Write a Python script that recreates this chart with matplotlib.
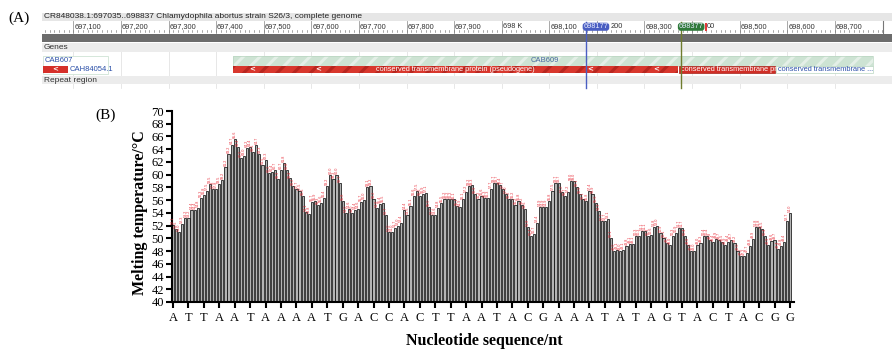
import matplotlib
matplotlib.use('Agg')
import matplotlib.pyplot as plt
from matplotlib.patches import Rectangle, FancyBboxPatch
import numpy as np

plt.rcParams['hatch.linewidth'] = 2.2

# ---------------- data ----------------
tick_bases = list("ATTAATAAAATGACCACTTAATACGAAATATAGTACTACGG")

melting_temp = [
    52.1, 51.5, 51.0, 52.3, 53.2, 53.2, 54.4, 54.4, 54.8, 56.3,
    56.8, 57.5, 58.5, 57.8, 57.8, 58.5, 59.2, 61.2, 63.2, 64.7,
    65.6, 64.4, 62.6, 63.0, 64.2, 64.4, 63.5, 64.7, 63.3, 61.5,
    62.3, 60.2, 60.4, 60.7, 59.3, 60.7, 61.8, 60.8, 59.4, 58.2,
    57.7, 57.5, 56.6, 54.1, 53.8, 55.7, 55.9, 55.3, 55.6, 56.4,
    58.2, 60.0, 59.3, 60.0, 58.7, 55.8, 54.0, 54.6, 54.0, 54.4,
    54.6, 55.7, 56.0, 58.1, 58.2, 56.2, 54.8, 55.4, 55.5, 53.7,
    51.0, 51.0, 51.7, 52.0, 52.4, 54.4, 53.6, 55.1, 56.6, 57.5,
    56.6, 56.9, 57.1, 55.0, 53.7, 53.6, 54.8, 55.5, 56.2, 56.2,
    56.2, 56.1, 55.1, 54.9, 56.1, 57.2, 58.2, 58.3, 56.9, 56.2,
    56.6, 56.3, 56.3, 57.7, 58.7, 58.7, 58.4, 57.7, 57.0, 56.2,
    56.2, 55.2, 55.8, 55.2, 54.6, 51.8, 50.4, 50.7, 52.4, 54.9,
    54.9, 54.9, 55.8, 57.5, 58.7, 58.7, 57.2, 56.7, 57.2, 59.0,
    59.0, 58.1, 56.9, 56.1, 55.8, 57.4, 56.9, 55.6, 54.3, 52.7,
    52.7, 53.1, 50.1, 48.0, 48.1, 48.0, 48.1, 48.8, 49.1, 49.1,
    50.3, 50.3, 51.1, 51.1, 50.3, 50.6, 51.8, 52.0, 50.9, 50.1,
    49.3, 49.0, 50.3, 50.9, 51.7, 51.7, 50.4, 49.0, 48.0, 48.0,
    49.0, 49.3, 50.4, 50.4, 49.8, 49.4, 49.9, 49.7, 49.5, 48.9,
    49.4, 49.7, 49.2, 48.0, 47.2, 47.2, 47.7, 48.8, 49.9, 51.8,
    51.8, 51.5, 50.4, 48.9, 49.6, 49.7, 48.4, 48.8, 49.4, 52.7,
    54.0,
]

ruler_bp = [697100, 697200, 697300, 697400, 697500, 697600, 697700, 697800,
            697900, 698000, 698100, 698200, 698300, 698400, 698500, 698600, 698700]
ruler_labels = ['697,100', '697,200', '697,300', '697,400', '697,500', '697,600',
                '697,700', '697,800', '697,900', '698 K', '698,100', '200',
                '698,300', '00', '698,500', '698,600', '698,700']
marker_bp = [698177, 698377]
marker_labels = ['698177', '698377']
title_text = "CR848038.1:697035..698837 Chlamydophila abortus strain S26/3, complete genome"

SERIF = 'Liberation Serif'
SANS = 'Liberation Sans'

fig = plt.figure(figsize=(8.92, 3.5), dpi=100)

# ---------------- panel A (pixel coordinates) ----------------
bg = fig.add_axes([0, 0, 1, 1])
bg.set_xlim(0, 892)
bg.set_ylim(350, 0)
bg.axis('off')


def bp2x(bp):
    return 73.3 + (bp - 697100) * 0.476


X0, X1 = 42, 892
RULER_END = 883

bg.text(8, 18, '(A)', fontsize=11, family=SERIF, va='center', ha='left')

# title band
bg.add_patch(Rectangle((X0, 12.5), X1 - X0, 8, facecolor='#e6e6e6', edgecolor='none'))
bg.text(X0 + 1.5, 16.5, title_text, fontsize=6, family=SANS, va='center', ha='left', color='#222222')

# ruler
label_offsets = {'200': 12.5, '00': 13.5}
for bp, lab in zip(ruler_bp, ruler_labels):
    xx = bp2x(bp)
    bg.plot([xx, xx], [21, 33], color='#9a9a9a', lw=0.6)
    bg.text(xx + 1 + label_offsets.get(lab, 0), 26.3, lab, fontsize=5.3, family=SANS,
            va='center', ha='left', color='#333333')
for bp in range(697040, 698820, 10):
    xx = bp2x(bp)
    if xx > RULER_END:
        break
    bg.plot([xx, xx], [30.3, 32.3], color='#777777', lw=0.45)
bg.plot([RULER_END, RULER_END], [21, 33], color='#777777', lw=0.8)

# dark band
bg.add_patch(Rectangle((X0, 34.3), X1 - X0, 7.4, facecolor='#6c6c6c', edgecolor='none'))

# Genes band
bg.add_patch(Rectangle((X0, 42.7), X1 - X0, 9, facecolor='#ececec', edgecolor='none'))
bg.text(X0 + 1.5, 47.3, 'Genes', fontsize=6, family=SANS, va='center', ha='left', color='#333333')

# repeat region band
bg.add_patch(Rectangle((X0, 76), X1 - X0, 8, facecolor='#ececec', edgecolor='none'))
bg.text(X0 + 1.5, 80, 'Repeat region', fontsize=6, family=SANS, va='center', ha='left', color='#333333')

# faint vertical grid
for bp in ruler_bp:
    xx = bp2x(bp)
    bg.plot([xx, xx], [42.7, 88], color='#dddddd', lw=0.5, zorder=0.5)

# CAB607 / CAH84054.1
bg.add_patch(Rectangle((43, 56), 65, 18, facecolor='white', edgecolor='#cfe3d5', lw=0.6, zorder=2))
bg.text(45, 60.5, 'CAB607', fontsize=5.5, family=SANS, color='#2a4fa8', va='center', ha='left', zorder=3)
bg.add_patch(Rectangle((43, 66), 25, 7, facecolor='#d5302a', edgecolor='none', zorder=3))
bg.text(55, 69.3, '<', fontsize=5, color='white', fontweight='bold', va='center', ha='center', zorder=4)
bg.text(70, 69.5, 'CAH84054.1', fontsize=5.5, family=SANS, color='#2a4fa8', va='center', ha='left', zorder=3)

# CAB609 green hatched band
g0, g1 = bp2x(697435), bp2x(698780)
bg.add_patch(Rectangle((g0, 56), g1 - g0, 9.6, facecolor='#cde3d3', edgecolor='#e4efe7',
                       hatch='//', lw=0, zorder=2))
bg.add_patch(Rectangle((g0, 56), g1 - g0, 9.6, facecolor='none', edgecolor='#b9d6c1', lw=0.5, zorder=2.1))
bg.text((g0 + g1) / 2 - 8, 60.3, 'CAB609', fontsize=5.5, family=SANS, color='#4a6aa0', va='center',
        ha='center', zorder=3)

# red pseudogene band
r0, r1 = bp2x(697435), bp2x(698370)
bg.add_patch(Rectangle((r0, 65.6), r1 - r0, 7.6, facecolor='#d8372d', edgecolor='#b8261f',
                       hatch='//', lw=0, zorder=3))
bg.text((r0 + r1) / 2, 69.6, 'conserved transmembrane protein (pseudogene)', fontsize=5.3,
        family=SANS, color='white', va='center', ha='center', zorder=4)
for bp in [697475, 697615, 698185, 698325]:
    bg.text(bp2x(bp), 69.2, '<', fontsize=5, color='white', fontweight='bold', va='center',
            ha='center', zorder=4)

# second red box
s0, s1 = bp2x(698372), bp2x(698575)
bg.add_patch(Rectangle((s0, 65.6), s1 - s0, 7.6, facecolor='#cf2e26', edgecolor='#a82019',
                       lw=0.5, zorder=3))
bg.text(s0 + 2, 69.6, 'conserved transmembrane pr...', fontsize=5.3, family=SANS, color='white',
        va='center', ha='left', zorder=4)

# third box (white)
t0, t1 = bp2x(698577), bp2x(698780)
bg.add_patch(Rectangle((t0, 65.6), t1 - t0, 7.6, facecolor='white', edgecolor='#b9d6c1',
                       lw=0.5, zorder=3))
bg.text(t0 + 2, 69.6, 'conserved transmembrane ...', fontsize=5.3, family=SANS, color='#2a4fa8',
        va='center', ha='left', zorder=4)

# position markers
marker_colors = ['#4a5ec2', '#2f7a3a']
line_colors = ['#4a5ec2', '#6f7c2e']
for bp, lab, fc, lc in zip(marker_bp, marker_labels, marker_colors, line_colors):
    xx = bp2x(bp)
    bg.plot([xx, xx], [22, 88], color=lc, lw=1.0, zorder=5)
    bg.add_patch(FancyBboxPatch((xx - 2.5, 23.5), 25, 6.5, boxstyle='round,pad=0.8,rounding_size=3',
                                facecolor=fc, edgecolor='none', zorder=6))
    bg.text(xx + 10, 26.8, lab, fontsize=5.3, family=SANS, color='#e8ecff', va='center',
            ha='center', zorder=7)
bg.add_patch(Rectangle((bp2x(698377) + 23.5, 22.8), 2.5, 8, facecolor='#e03a3a', edgecolor='none',
                       zorder=6))

# ---------------- panel B ----------------
fig.text(95 / 892, 1 - 115 / 350, '(B)', fontsize=11, family=SERIF, va='center', ha='left')

ax = fig.add_axes([171.5 / 892, 1 - 302 / 350, 622.5 / 892, 191 / 350])
xpos = np.arange(len(melting_temp))
ax.bar(xpos, melting_temp, width=0.7, color='#b4b4b4', edgecolor='black', linewidth=0.5)
for xi, v in zip(xpos, melting_temp):
    ax.text(xi, v + 0.15, f'{v:.1f}', rotation=90, fontsize=2.7, color='#e8303c',
            ha='center', va='bottom', family=SANS)

ax.set_xlim(-0.5, 201.3)
ax.set_ylim(40, 70)
ax.set_yticks(np.arange(40, 71, 2))
ax.set_xticks(xpos[::5])
ax.set_xticklabels(tick_bases)
for sp in ['top', 'right']:
    ax.spines[sp].set_visible(False)
for sp in ['left', 'bottom']:
    ax.spines[sp].set_linewidth(1.5)
ax.tick_params(axis='both', direction='out', length=4, width=1.5, labelsize=9)
ax.tick_params(axis='y', pad=1.5)
ax.tick_params(axis='x', pad=3)
for lab in ax.get_xticklabels() + ax.get_yticklabels():
    lab.set_family(SERIF)

ax.set_ylabel('Melting temperature/°C', fontsize=11.5, fontweight='bold', family=SERIF)
ax.yaxis.label.set_va('center')
ax.yaxis.set_label_coords(-0.05, 0.47)
ax.set_xlabel('Nucleotide sequence/nt', fontsize=11.5, fontweight='bold', family=SERIF)
ax.xaxis.label.set_va('center')
ax.xaxis.set_label_coords(0.502, -0.204)

fig.savefig('out.png', dpi=100)
